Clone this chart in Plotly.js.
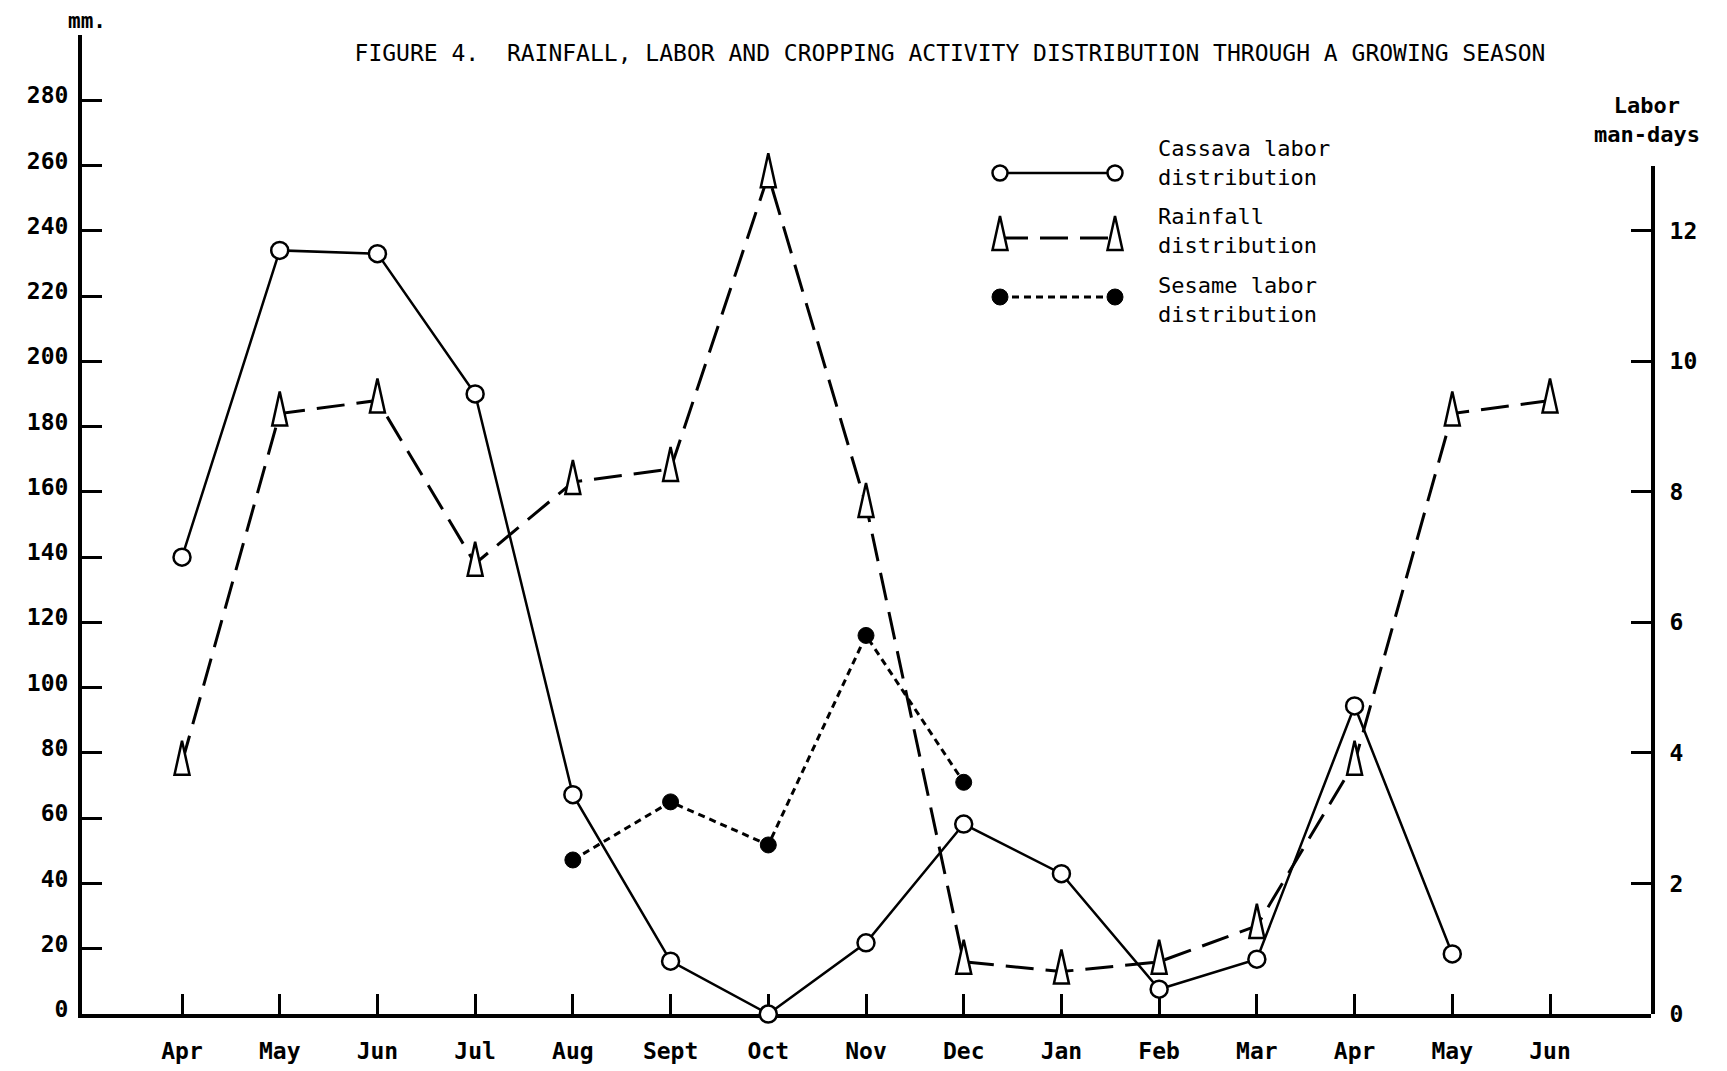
<!DOCTYPE html>
<html>
<head>
<meta charset="utf-8">
<script src="https://cdn.plot.ly/plotly-3.0.1.min.js"></script>
<style>
  html, body { margin: 0; padding: 0; background: #ffffff; }
  #chart { width: 1727px; height: 1071px; }
</style>
</head>
<body>
<div id="chart"></div>
<script>
// ---------------- data ----------------
const months = ['Apr','May','Jun','Jul','Aug','Sept','Oct','Nov','Dec','Jan','Feb','Mar','Apr','May','Jun'];
const rainfallMm   = [77, 184, 188, 138, 163, 167, 257, 156, 16, 13, 16, 27, 77, 184, 188];
const cassavaLabor = [7.0, 11.7, 11.65, 9.5, 3.36, 0.81, 0.0, 1.09, 2.91, 2.15, 0.38, 0.84, 4.72, 0.92, null];
const sesameLabor  = [null, null, null, null, 2.36, 3.25, 2.59, 5.8, 3.55, null, null, null, null, null, null];
const mmTicks    = [0, 20, 40, 60, 80, 100, 120, 140, 160, 180, 200, 220, 240, 260, 280];
const laborTicks = [0, 2, 4, 6, 8, 10, 12];
const titleText = 'FIGURE 4.\u00a0\u00a0RAINFALL, LABOR AND CROPPING ACTIVITY DISTRIBUTION THROUGH A GROWING SEASON';
const legendNames = ['Cassava labor<br>distribution', 'Rainfall<br>distribution', 'Sesame labor<br>distribution'];

// ---------------- layout geometry ----------------
const W = 1727, H = 1071;
const L = 82, R = 1651, T = 35, B = 1014;
const PW = R - L, PH = B - T;
const px = v => (v - L) / PW;      // pixel x -> paper
const py = v => (B - v) / PH;      // pixel y -> paper
const FONT = 'DejaVu Sans Mono, Liberation Mono, monospace';
const idx = months.map((m, i) => i);

const triPath = 'M -7.5 -12 L 0 22 L 7.5 -12 Z';

const traces = [
  {
    x: idx, y: rainfallMm, xaxis: 'x', yaxis: 'y', type: 'scatter', mode: 'lines',
    name: 'Rainfall distribution', connectgaps: false, cliponaxis: false,
    line: { color: '#000', width: 3, dash: '28px,12px' }, hoverinfo: 'x+y'
  },
  {
    x: idx, y: sesameLabor, xaxis: 'x', yaxis: 'y2', type: 'scatter', mode: 'lines+markers',
    name: 'Sesame labor distribution', cliponaxis: false,
    line: { color: '#000', width: 3, dash: '7px,5px' },
    marker: { symbol: 'circle', size: 16, color: '#000', line: { color: '#000', width: 1 } }
  },
  {
    x: idx, y: cassavaLabor, xaxis: 'x', yaxis: 'y2', type: 'scatter', mode: 'lines+markers',
    name: 'Cassava labor distribution', cliponaxis: false,
    line: { color: '#000', width: 2.5 },
    marker: { symbol: 'circle', size: 17, color: '#fff', line: { color: '#000', width: 2.5 } }
  }
];

const shapes = [];
// rainfall triangles, anchored at each data point
rainfallMm.forEach((v, i) => {
  if (v === null) return;
  shapes.push({
    type: 'path', xref: 'x', yref: 'y', xsizemode: 'pixel', ysizemode: 'pixel',
    xanchor: idx[i], yanchor: v, path: triPath,
    fillcolor: '#fff', line: { color: '#000', width: 2.5 }, layer: 'above'
  });
});

// ---- legend samples (paper coordinates) ----
const legX0 = 1000, legX1 = 1115;
const legY = [173, 238, 297];
// cassava
shapes.push({ type: 'line', xref: 'paper', yref: 'paper', x0: px(legX0), x1: px(legX1), y0: py(legY[0]), y1: py(legY[0]),
  line: { color: '#000', width: 2.5 }, layer: 'above' });
[legX0, legX1].forEach(xx => shapes.push({ type: 'circle', xref: 'paper', yref: 'paper', xsizemode: 'pixel', ysizemode: 'pixel',
  xanchor: px(xx), yanchor: py(legY[0]), x0: -7.5, x1: 7.5, y0: -7.5, y1: 7.5,
  fillcolor: '#fff', line: { color: '#000', width: 2.5 }, layer: 'above' }));
// rainfall
shapes.push({ type: 'line', xref: 'paper', yref: 'paper', x0: px(legX0), x1: px(legX1), y0: py(legY[1]), y1: py(legY[1]),
  line: { color: '#000', width: 3, dash: '28px,12px' }, layer: 'above' });
[legX0, legX1].forEach(xx => shapes.push({ type: 'path', xref: 'paper', yref: 'paper', xsizemode: 'pixel', ysizemode: 'pixel',
  xanchor: px(xx), yanchor: py(legY[1]), path: triPath,
  fillcolor: '#fff', line: { color: '#000', width: 2.5 }, layer: 'above' }));
// sesame
shapes.push({ type: 'line', xref: 'paper', yref: 'paper', x0: px(legX0), x1: px(legX1), y0: py(legY[2]), y1: py(legY[2]),
  line: { color: '#000', width: 3, dash: '7px,5px' }, layer: 'above' });
[legX0, legX1].forEach(xx => shapes.push({ type: 'circle', xref: 'paper', yref: 'paper', xsizemode: 'pixel', ysizemode: 'pixel',
  xanchor: px(xx), yanchor: py(legY[2]), x0: -8, x1: 8, y0: -8, y1: 8,
  fillcolor: '#000', line: { color: '#000', width: 1 }, layer: 'above' }));

const annotations = [
  { text: '<b>mm.</b>', xref: 'paper', yref: 'paper', x: px(87), y: py(21), xanchor: 'center', yanchor: 'middle',
    showarrow: false, font: { family: FONT, size: 21, color: '#000' } },
  { text: '<b>Labor</b><br><b>man-days</b>', xref: 'paper', yref: 'paper', x: px(1647), y: py(120), xanchor: 'center', yanchor: 'middle',
    showarrow: false, font: { family: FONT, size: 22, color: '#000' } },
  { text: legendNames[0], xref: 'paper', yref: 'paper', x: px(1156), y: py(162.5), xanchor: 'left', yanchor: 'middle', align: 'left',
    showarrow: false, font: { family: FONT, size: 22, color: '#000' } },
  { text: legendNames[1], xref: 'paper', yref: 'paper', x: px(1156), y: py(231), xanchor: 'left', yanchor: 'middle', align: 'left',
    showarrow: false, font: { family: FONT, size: 22, color: '#000' } },
  { text: legendNames[2], xref: 'paper', yref: 'paper', x: px(1156), y: py(300), xanchor: 'left', yanchor: 'middle', align: 'left',
    showarrow: false, font: { family: FONT, size: 22, color: '#000' } }
];

const axisCommon = {
  showgrid: false, zeroline: false, showline: true, linecolor: '#000',
  ticks: 'inside', tickcolor: '#000', fixedrange: true,
  tickfont: { family: FONT, size: 23, color: '#000', weight: 'bold' }
};

const layout = {
  width: W, height: H,
  margin: { l: L, r: W - R, t: T, b: H - B, pad: 0 },
  paper_bgcolor: '#fff', plot_bgcolor: 'rgba(0,0,0,0)',
  showlegend: false,
  title: {
    text: titleText, xref: 'container', yref: 'container',
    x: 950 / W, y: 1 - 53 / H, xanchor: 'center', yanchor: 'middle',
    font: { family: FONT, size: 23, color: '#000' }
  },
  xaxis: Object.assign({}, axisCommon, {
    domain: [0, 1], range: [(L - 182) / 97.714, 14 + (R - 1550) / 97.714],
    tickmode: 'array', tickvals: idx, ticktext: months,
    ticklen: 20, tickwidth: 3, linewidth: 4, ticklabelstandoff: 13,
    anchor: 'y'
  }),
  yaxis: Object.assign({}, axisCommon, {
    domain: [0, 1], range: [0, 300],
    tickmode: 'array', tickvals: mmTicks, ticktext: mmTicks.map(String),
    ticklen: 20, tickwidth: 3, linewidth: 4, ticklabelstandoff: 5, ticklabelshift: -5,
    anchor: 'x', side: 'left'
  }),
  yaxis2: Object.assign({}, axisCommon, {
    domain: [0, 13 / 15], range: [0, 13],
    tickmode: 'array', tickvals: laborTicks, ticktext: laborTicks.map(String),
    ticklen: 20, tickwidth: 3, linewidth: 4, ticklabelstandoff: 10,
    anchor: 'x', side: 'right'
  }),
  shapes: shapes,
  annotations: annotations
};

Plotly.newPlot('chart', traces, layout, { displayModeBar: false, staticPlot: true });
</script>
</body>
</html>
